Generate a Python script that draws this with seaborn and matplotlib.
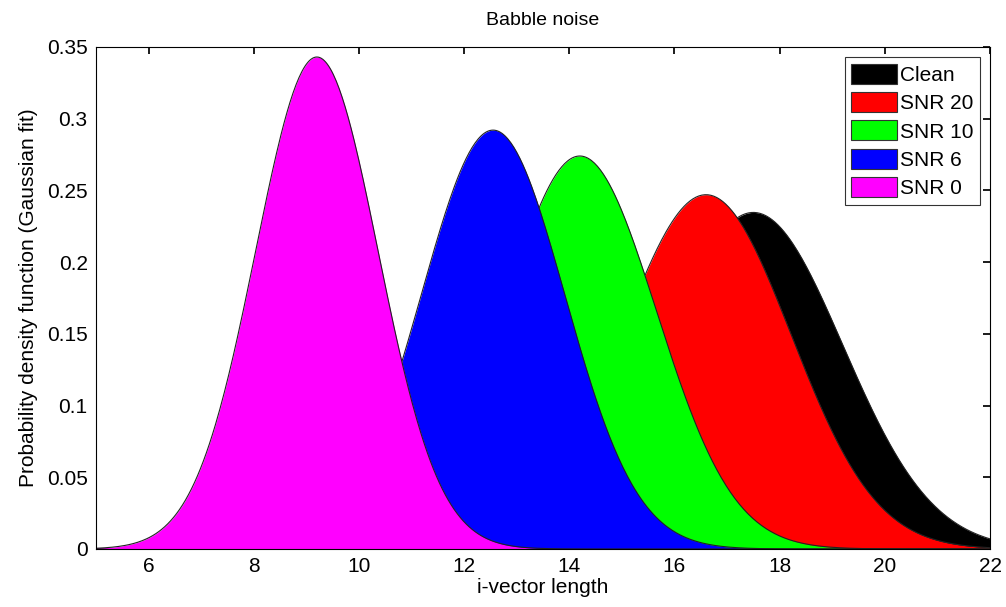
import numpy as np
import matplotlib
matplotlib.use("Agg")
import matplotlib.pyplot as plt
import seaborn as sns
import pandas as pd
from matplotlib.patches import Patch

# Gaussian fit parameters
conditions = ["Clean", "SNR 20", "SNR 10", "SNR 6", "SNR 0"]
means = [17.5, 16.6, 14.2, 12.55, 9.2]
sigmas = [1.70, 1.615, 1.456, 1.366, 1.163]
colors = ["#000000", "#ff0000", "#00ff00", "#0000ff", "#ff00ff"]
x_ticks = [6, 8, 10, 12, 14, 16, 18, 20, 22]
y_ticks = [0, 0.05, 0.1, 0.15, 0.2, 0.25, 0.3, 0.35]
y_tick_labels = ["0", "0.05", "0.1", "0.15", "0.2", "0.25", "0.3", "0.35"]

sns.set_theme(style="white")
plt.rcParams['font.family'] = ['Liberation Sans', 'DejaVu Sans']
plt.rcParams['text.color'] = 'black'
plt.rcParams['axes.labelcolor'] = 'black'
plt.rcParams['xtick.color'] = 'black'
plt.rcParams['ytick.color'] = 'black'

fig = plt.figure(figsize=(10.06, 6.07), dpi=100)
ax = fig.add_axes([96/1006, 1-549/607, (990-96)/1006, (549-47)/607])

xs = np.linspace(5, 22, 600)
rows = []
for c, m, s in zip(conditions, means, sigmas):
    pdf = np.exp(-0.5*((xs-m)/s)**2)/(s*np.sqrt(2*np.pi))
    rows.append(pd.DataFrame({"x": xs, "pdf": pdf, "cond": c}))
df = pd.concat(rows)

for i, (c, col) in enumerate(zip(conditions, colors)):
    d = df[df.cond == c]
    z = 2 + i
    ax.fill_between(d.x, 0, d.pdf, color=col, linewidth=0, zorder=z)
    sns.lineplot(data=d, x="x", y="pdf", color="#222222", linewidth=0.8, ax=ax, zorder=z + 0.5)

ax.set_xlim(5, 22)
ax.set_ylim(0, 0.35)
ax.set_xticks(x_ticks)
ax.set_yticks(y_ticks)
ax.set_yticklabels(y_tick_labels)
ax.tick_params(direction="in", length=5, labelsize=15, color="black", labelcolor="black",
               top=True, right=True, pad=6)
for sp in ax.spines.values():
    sp.set_color("black")
    sp.set_linewidth(0.8)
    sp.set_zorder(20)
ax.set_xlabel("i-vector length", fontsize=15, labelpad=1, color="black")
ax.set_ylabel("Probability density function (Gaussian fit)", fontsize=15, labelpad=6, color="black")
ax.set_title("Babble noise", fontsize=14, pad=16, color="black")

handles = [Patch(facecolor=col, edgecolor="#333333", linewidth=0.8) for col in colors]
leg = ax.legend(handles, conditions, loc="upper right", fontsize=15, frameon=True,
                fancybox=False, edgecolor="black", handlelength=2.2, handleheight=1.1,
                handletextpad=0.15, borderpad=0.3, labelspacing=0.35, borderaxespad=0.5)
leg.get_frame().set_linewidth(0.8)
for t in leg.get_texts():
    t.set_color("black")
leg.set_zorder(30)

fig.savefig("out.png", dpi=100)
